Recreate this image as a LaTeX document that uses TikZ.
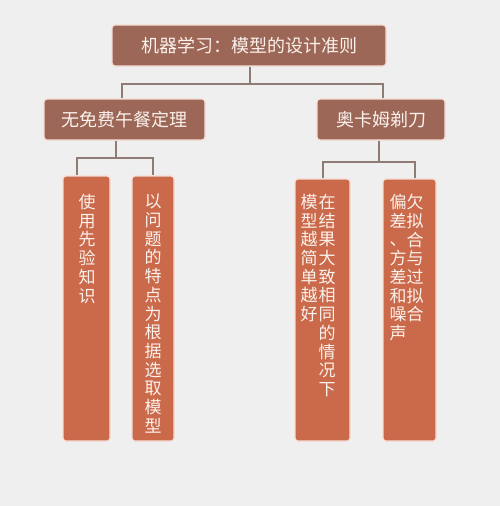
\documentclass[tikz,border=0pt]{standalone}
\usepackage{fontspec}
\newfontfamily\cjk{Noto Sans CJK SC}
\definecolor{bgc}{HTML}{EFEFEF}
\definecolor{brownbox}{HTML}{9C6756}
\definecolor{leafbox}{HTML}{CA6A4B}
\definecolor{linec}{HTML}{8E7C74}
\definecolor{edgec}{HTML}{F5DDD4}
\definecolor{txtc}{HTML}{FBF1EC}
\tikzset{
  box/.style={draw=edgec, line width=1.2pt, rounded corners=3pt, fill=brownbox},
  leaf/.style={draw=edgec, line width=1.2pt, rounded corners=3pt, fill=leafbox},
  ttl/.style={text=txtc, font=\cjk\fontsize{18}{20}\selectfont, inner sep=0pt},
  vtext/.style={text=txtc, font=\cjk\fontsize{17}{18.7}\selectfont, align=center, inner sep=0pt, anchor=north, text width=17pt},
  conn/.style={draw=linec, line width=1.3pt},
}
\begin{document}
\begin{tikzpicture}[x=1pt,y=-1pt]
\fill[bgc] (0,0) rectangle (500,506);
\useasboundingbox (0,0) rectangle (500,506);
% boxes
\path[box] (112,25) rectangle (386,66);
\node[ttl] (root) at (249,46) {机器学习：模型的设计准则};
\path[box] (44,99) rectangle (205,140);
\node[ttl] (nfl) at (124,120) {无免费午餐定理};
\path[box] (317,99) rectangle (445,140);
\node[ttl] (occ) at (381,120) {奥卡姆剃刀};
\path[leaf] (63,176) rectangle (110,441);
\path[leaf] (132,176) rectangle (174,441);
\path[leaf] (295,179) rectangle (350,441);
\path[leaf] (383,179) rectangle (436,441);
% connector coordinates
\coordinate (r0) at (250,67);
\coordinate (rj) at (250,84);
\coordinate (rl) at (122,84);
\coordinate (rr) at (383,84);
\coordinate (a0) at (116,141);
\coordinate (aj) at (116,158);
\coordinate (al) at (77,158);
\coordinate (ar) at (153,158);
\coordinate (b0) at (379,141);
\coordinate (bj) at (379,162);
\coordinate (bl) at (323,162);
\coordinate (br) at (415,162);
\draw[conn] (r0) -- (rj);
\draw[conn] (122,98) -- (rl) -- (rr) -- (383,98);
\draw[conn] (a0) -- (aj);
\draw[conn] (77,175) -- (al) -- (ar) -- (153,175);
\draw[conn] (b0) -- (bj);
\draw[conn] (323,178) -- (bl) -- (br) -- (415,178);
% vertical texts
\node[vtext] (t1) at (87,194) {使\\用\\先\\验\\知\\识};
\node[vtext] (t2) at (153,194) {以\\问\\题\\的\\特\\点\\为\\根\\据\\选\\取\\模\\型};
\node[vtext] (t3a) at (327,194) {在\\结\\果\\大\\致\\相\\同\\的\\情\\况\\下};
\node[vtext] (t3b) at (309,194) {模\\型\\越\\简\\单\\越\\好};
\node[vtext] (t4a) at (415,194) {欠\\拟\\合\\与\\过\\拟\\合};
\node[vtext] (t4b) at (398,194) {偏\\差\\、\\方\\差\\和\\噪\\声};
\end{tikzpicture}
\end{document}
